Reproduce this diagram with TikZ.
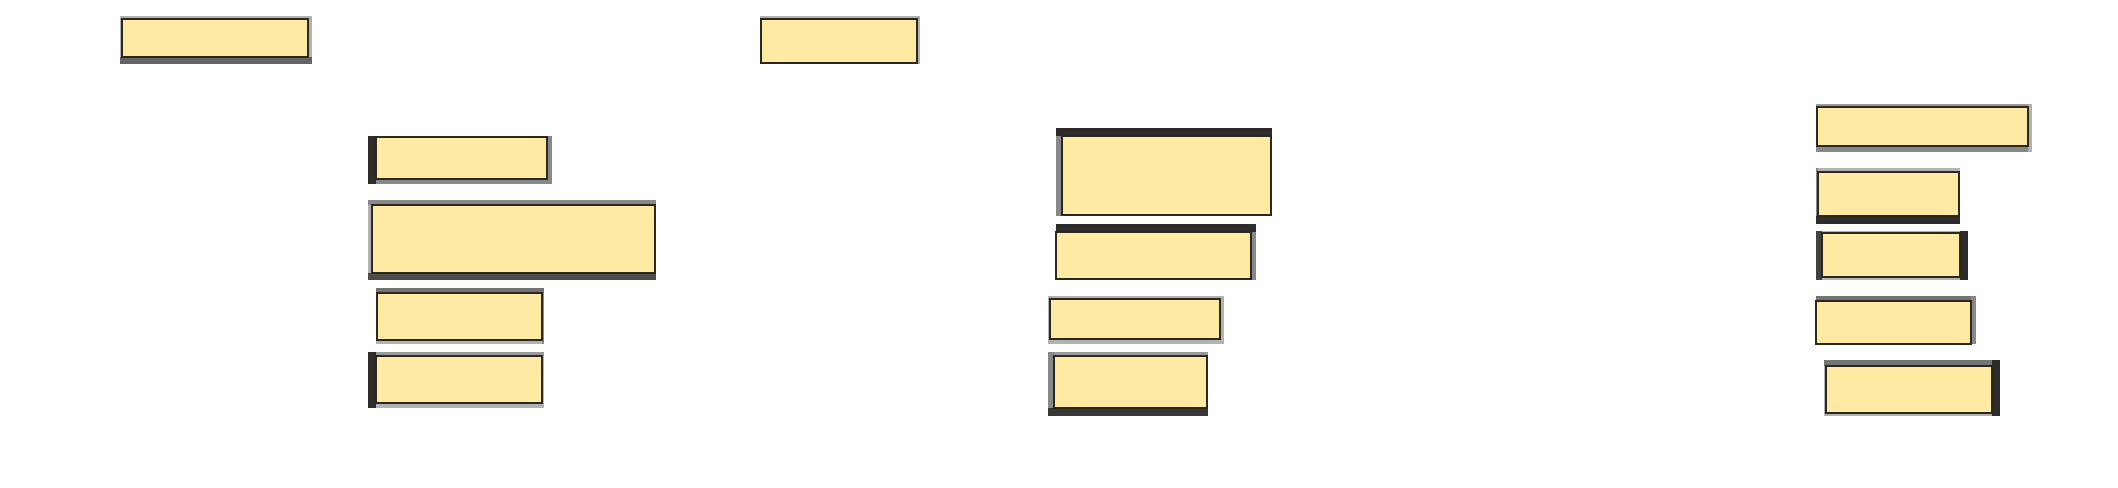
\documentclass[tikz,border=0pt]{standalone}
\usepackage{xcolor}
\usepackage{tikz}
\definecolor{cardyellow}{RGB}{255,234,163}
\definecolor{cardline}{RGB}{45,40,30}
\definecolor{edgedark}{RGB}{46,44,42}
\definecolor{edgemid}{RGB}{100,100,100}
\definecolor{edgegrey}{RGB}{136,136,136}
\definecolor{edgelight}{RGB}{178,178,178}

\begin{document}
\begin{tikzpicture}[
    x=0.01cm,y=-0.01cm,
    card/.style={fill=cardyellow,draw=cardline,line width=0.45pt},
    dk/.style={fill=edgedark},
    md/.style={fill=edgemid},
    gr/.style={fill=edgegrey},
    lt/.style={fill=edgelight}
]
    \useasboundingbox (0,0) rectangle (2118,488);

    % left column
    \fill[lt] (120,16) rectangle (122,64);
    \fill[lt] (120,16) rectangle (312,19);
    \fill[lt] (308,16) rectangle (312,64);
    \fill[md] (120,57) rectangle (312,64);
    \draw[card] (122,19) rectangle (308,57);

    \fill[lt] (760,16) rectangle (920,19);
    \fill[lt] (917,16) rectangle (920,64);
    \draw[card] (761,19) rectangle (917,63);

    \fill[gr] (368,179) rectangle (552,184);
    \fill[gr] (547,136) rectangle (552,184);
    \fill[dk] (368,136) rectangle (376,184);
    \draw[card] (376,137) rectangle (547,179);

    \fill[lt] (368,200) rectangle (372,280);
    \fill[gr] (368,200) rectangle (656,205);
    \fill[edgedark!85!white] (368,273) rectangle (656,280);
    \draw[card] (372,205) rectangle (655,273);

    \fill[lt] (376,340) rectangle (544,344);
    \fill[gr] (542,288) rectangle (544,344);
    \fill[edgemid!90!white] (376,288) rectangle (544,293);
    \draw[card] (377,293) rectangle (542,340);

    \fill[lt] (368,403) rectangle (544,408);
    \fill[lt] (542,352) rectangle (544,408);
    \fill[edgegrey!85!white] (368,352) rectangle (544,356);
    \fill[dk] (368,352) rectangle (376,408);
    \draw[card] (376,356) rectangle (542,403);

    % middle column
    \fill[gr] (1056,128) rectangle (1062,216);
    \fill[dk] (1056,128) rectangle (1272,136);
    \draw[card] (1062,136) rectangle (1271,215);

    \fill[gr] (1251,224) rectangle (1256,280);
    \fill[dk] (1056,224) rectangle (1256,232);
    \draw[card] (1056,232) rectangle (1251,279);

    \fill[lt] (1048,296) rectangle (1224,344);
    \draw[card] (1050,299) rectangle (1220,339);

    \fill[edgegrey!85!white] (1048,352) rectangle (1208,356);
    \fill[gr] (1048,352) rectangle (1054,416);
    \fill[edgedark!95!white] (1048,408) rectangle (1208,416);
    \draw[card] (1054,356) rectangle (1207,408);

    % right column
    \fill[edgegrey!85!white] (1816,104) rectangle (2032,107);
    \fill[gr] (1816,146) rectangle (2032,152);
    \fill[lt] (2028,104) rectangle (2032,152);
    \draw[card] (1817,107) rectangle (2028,146);

    \fill[lt] (1816,168) rectangle (1960,172);
    \fill[gr] (1816,168) rectangle (1818,224);
    \fill[dk] (1816,216) rectangle (1960,224);
    \draw[card] (1818,172) rectangle (1959,216);

    \fill[lt] (1816,231) rectangle (1968,233);
    \fill[lt] (1816,277) rectangle (1968,280);
    \fill[edgedark!90!white] (1816,231) rectangle (1822,280);
    \fill[dk] (1960,231) rectangle (1968,280);
    \draw[card] (1822,233) rectangle (1960,277);

    \fill[edgemid!90!white] (1816,296) rectangle (1976,301);
    \fill[gr] (1971,296) rectangle (1976,344);
    \draw[card] (1816,301) rectangle (1971,344);

    \fill[lt] (1824,360) rectangle (1826,416);
    \fill[lt] (1824,413) rectangle (2000,416);
    \fill[edgemid!90!white] (1824,360) rectangle (2000,366);
    \fill[dk] (1992,360) rectangle (2000,416);
    \draw[card] (1826,366) rectangle (1992,413);
\end{tikzpicture}
\end{document}
